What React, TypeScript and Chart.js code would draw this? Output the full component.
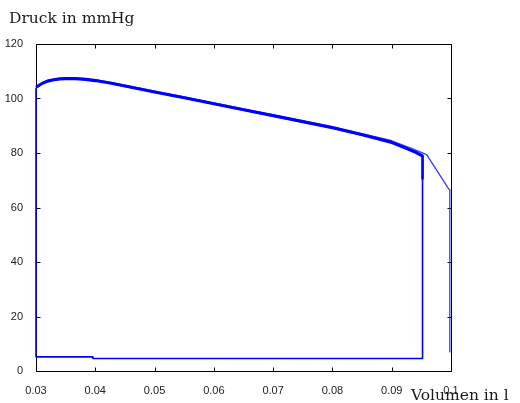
import React, { useEffect, useRef } from "react";
import { Chart, registerables } from "chart.js";

Chart.register(...registerables);

// Druck-Volumen-Schleife (mehrere Herzzyklen überlagert)
// Zyklus 1: vollständige Schleife
const loopVolume = [
  0.03, 0.031, 0.032, 0.033, 0.034, 0.035, 0.0365, 0.038, 0.04, 0.0425, 0.045,
  0.0475, 0.05, 0.055, 0.06, 0.065, 0.07, 0.075, 0.08, 0.085, 0.09, 0.0925,
  0.094, 0.0952, 0.0952, 0.0396, 0.0396, 0.03, 0.03,
];
const loopPressure = [
  103.8, 105.2, 106.1, 106.6, 106.9, 107.0, 107.0, 106.8, 106.3, 105.4, 104.3,
  103.2, 102.1, 100.0, 97.8, 95.6, 93.4, 91.2, 89.0, 86.4, 83.6, 81.4, 80.0,
  78.6, 4.6, 4.6, 5.2, 5.2, 103.8,
];

// Zyklus 2: Füllungsphase, endet im Abfall bei 0.0952
const cycle2Volume = [
  0.03, 0.031, 0.032, 0.033, 0.034, 0.035, 0.0365, 0.038, 0.04, 0.0425, 0.045,
  0.0475, 0.05, 0.055, 0.06, 0.065, 0.07, 0.075, 0.08, 0.085, 0.09, 0.0925,
  0.094, 0.0952, 0.0952,
];
const cycle2Pressure = [
  104.2, 105.6, 106.5, 107.0, 107.3, 107.4, 107.4, 107.2, 106.7, 105.8, 104.7,
  103.6, 102.5, 100.4, 98.2, 96.0, 93.8, 91.6, 89.4, 86.8, 84.0, 81.8, 80.4,
  79.0, 70.6,
];

// Zyklus 3: verläuft weiter bis 0.1
const cycle3Volume = [
  0.03, 0.032, 0.034, 0.036, 0.038, 0.04, 0.045, 0.05, 0.055, 0.06, 0.065,
  0.07, 0.075, 0.08, 0.085, 0.09, 0.093, 0.0959, 0.0996, 0.0998, 0.0998,
];
const cycle3Pressure = [
  104.5, 106.7, 107.4, 107.5, 107.3, 106.9, 104.9, 102.7, 100.6, 98.4, 96.2,
  94.0, 91.8, 89.6, 87.1, 84.5, 82.0, 79.4, 66.8, 66.5, 7.0,
];

const xTicks = [0.03, 0.04, 0.05, 0.06, 0.07, 0.08, 0.09, 0.1];
const yTicks = [0, 20, 40, 60, 80, 100, 120];

const xTitle = "Volumen in l";
const yTitle = "Druck in mmHg";

const BLUE = "#0000ff";

function toPoints(xs: number[], ys: number[]) {
  return xs.map((x, i) => ({ x, y: ys[i] }));
}

// Achsenrahmen mit nach innen zeigenden Ticks (unter den Kurven gezeichnet)
const framePlugin = {
  id: "frameAndTitles",
  beforeDatasetsDraw(chart: any) {
    const { ctx, chartArea } = chart;
    const { left, right, top, bottom } = chartArea;
    const xs = chart.scales.x;
    const ys = chart.scales.y;
    const tl = 4;
    ctx.save();
    ctx.strokeStyle = "#000";
    ctx.lineWidth = 1;
    ctx.beginPath();
    const L = Math.round(left) + 0.5;
    const R = Math.round(right) + 0.5;
    const T = Math.round(top) + 0.5;
    const B = Math.round(bottom) + 0.5;
    ctx.rect(L, T, R - L, B - T);
    for (const v of xTicks) {
      const px = Math.round(xs.getPixelForValue(v)) + 0.5;
      ctx.moveTo(px, B);
      ctx.lineTo(px, B - tl);
      ctx.moveTo(px, T);
      ctx.lineTo(px, T + tl);
    }
    for (const v of yTicks) {
      const py = Math.round(ys.getPixelForValue(v)) + 0.5;
      ctx.moveTo(L, py);
      ctx.lineTo(L + tl, py);
      ctx.moveTo(R, py);
      ctx.lineTo(R - tl, py);
    }
    ctx.stroke();

    ctx.fillStyle = "#1a1a1a";
    ctx.font = "15.5px 'DejaVu Serif'";
    ctx.textBaseline = "alphabetic";
    ctx.textAlign = "left";
    ctx.fillText(yTitle, 9, 23);
    ctx.fillText(xTitle, 411, 400);
    ctx.restore();
  },
};

export default function App() {
  const canvasRef = useRef<HTMLCanvasElement | null>(null);

  useEffect(() => {
    if (!canvasRef.current) return;
    const common = {
      showLine: true,
      borderColor: BLUE,
      pointRadius: 0,
      tension: 0,
      clip: 4,
      borderJoinStyle: "round" as const,
    };
    const chart = new Chart(canvasRef.current, {
      type: "scatter",
      data: {
        datasets: [
          {
            ...common,
            label: "Zyklus 1",
            data: toPoints(loopVolume, loopPressure),
            borderWidth: 1.6,
          },
          {
            ...common,
            label: "Zyklus 2",
            data: toPoints(cycle2Volume, cycle2Pressure),
            borderWidth: 2.6,
          },
          {
            ...common,
            label: "Zyklus 3",
            data: toPoints(cycle3Volume, cycle3Pressure),
            borderColor: "#3a3aff",
            borderWidth: 1.3,
          },
        ],
      },
      options: {
        animation: false,
        responsive: false,
        maintainAspectRatio: false,
        layout: { padding: { left: 0, right: 69, top: 44, bottom: 0 } },
        plugins: {
          legend: { display: false },
          tooltip: { enabled: false },
        },
        scales: {
          x: {
            type: "linear",
            min: 0.03,
            max: 0.1,
            afterBuildTicks: (scale: any) => {
              scale.ticks = xTicks.map((v) => ({ value: v }));
            },
            afterFit: (scale: any) => {
              scale.height = 32;
            },
            grid: { display: false },
            border: { display: false },
            ticks: {
              padding: 5,
              color: "#222",
              font: { family: "'Liberation Sans', Arial", size: 11 },
              maxRotation: 0,
              autoSkip: false,
              callback: (v: any) => String(Number(Number(v).toFixed(2))),
            },
          },
          y: {
            type: "linear",
            min: 0,
            max: 120,
            afterBuildTicks: (scale: any) => {
              scale.ticks = yTicks.map((v) => ({ value: v }));
            },
            afterFit: (scale: any) => {
              scale.width = 36;
            },
            grid: { display: false },
            border: { display: false },
            ticks: {
              padding: 5,
              color: "#222",
              font: { family: "'Liberation Sans', Arial", size: 11 },
              callback: (v: any) => String(v),
            },
          },
        },
      },
      plugins: [framePlugin],
    });
    return () => chart.destroy();
  }, []);

  return (
    <div
      style={{
        position: "fixed",
        left: 0,
        top: 0,
        width: 520,
        height: 403,
        background: "#fff",
      }}
    >
      <canvas ref={canvasRef} width={520} height={403} />
    </div>
  );
}
